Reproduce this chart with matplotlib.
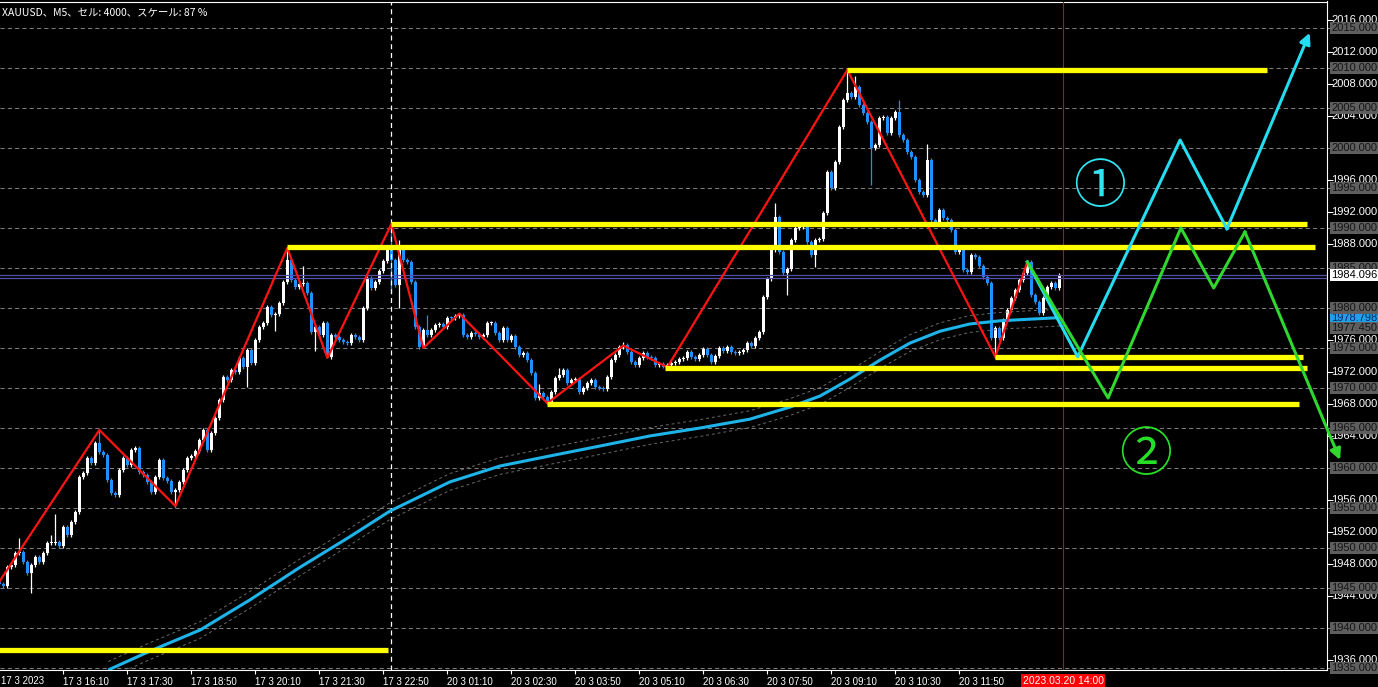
import matplotlib
matplotlib.use('Agg')
import matplotlib.pyplot as plt
import matplotlib.transforms as mtransforms
from matplotlib.ticker import FixedLocator

# M5 closes, one per bar (bar 0 = 17 3 14:50 ... bar 265 = 20 3 13:55)
closes = [
    1945.5, 1945.2, 1947.6, 1947.9, 1949.4, 1949.5, 1948.25, 1946.9, 1947.9, 1948.9,
    1948.25, 1949.4, 1950.6, 1950.6, 1950.8, 1950.25, 1952.6, 1951.6, 1953.25, 1954.5,
    1958.9, 1959.4, 1961.25, 1960.6, 1963.1, 1962.0, 1961.6, 1958.5, 1956.9, 1956.6,
    1959.75, 1961.25, 1960.4, 1962.25, 1962.5, 1959.5, 1959.1, 1958.25, 1957.0, 1958.9,
    1961.0, 1958.75, 1958.4, 1957.0, 1957.25, 1958.25, 1959.75, 1961.25, 1961.5, 1962.1,
    1963.5, 1964.75, 1962.25, 1964.4, 1966.25, 1968.5, 1971.4, 1971.0, 1972.25, 1972.0,
    1973.75, 1972.6, 1974.75, 1973.1, 1976.0, 1977.6, 1978.1, 1980.1, 1979.1, 1979.25,
    1980.6, 1983.25, 1986.0, 1983.5, 1982.6, 1983.0, 1983.1, 1981.9, 1977.0, 1977.6,
    1976.6, 1978.1, 1973.9, 1976.6, 1976.4, 1976.0, 1975.75, 1975.6, 1976.6, 1976.4,
    1976.0, 1980.0, 1983.75, 1982.5, 1983.25, 1984.6, 1985.9, 1987.5, 1986.0, 1982.9,
    1987.6, 1986.0, 1985.75, 1983.25, 1977.6, 1975.1, 1977.25, 1976.6, 1977.25, 1977.9,
    1978.0, 1977.6, 1978.75, 1978.7, 1979.0, 1979.1, 1976.6, 1976.4, 1976.9, 1976.75,
    1976.4, 1976.6, 1978.1, 1978.1, 1976.9, 1976.0, 1977.5, 1976.0, 1976.5, 1975.1,
    1974.1, 1974.4, 1973.5, 1971.9, 1968.75, 1969.4, 1968.9, 1968.25, 1969.5, 1971.25,
    1971.6, 1972.25, 1970.6, 1971.0, 1971.1, 1969.5, 1970.0, 1970.6, 1971.0, 1970.1,
    1970.0, 1969.9, 1971.4, 1973.5, 1974.1, 1975.1, 1975.4, 1974.5, 1973.25, 1972.9,
    1973.75, 1974.4, 1973.9, 1973.75, 1972.9, 1973.0, 1972.6, 1972.9, 1973.1, 1973.3,
    1973.6, 1973.7, 1974.5, 1973.9, 1973.6, 1974.1, 1974.9, 1974.1, 1973.25, 1974.0,
    1975.0, 1974.6, 1975.1, 1974.5, 1974.4, 1974.5, 1974.75, 1975.6, 1975.25, 1976.25,
    1977.0, 1981.4, 1983.6, 1987.25, 1991.4, 1987.0, 1984.4, 1984.9, 1988.5, 1990.0,
    1990.1, 1990.2, 1988.25, 1986.6, 1988.5, 1988.6, 1991.9, 1997.0, 1995.0, 1998.25,
    2002.6, 2006.0, 2006.9, 2006.4, 2007.6, 2005.4, 2004.4, 2003.25, 2000.0, 2000.4,
    2003.75, 2003.9, 2001.9, 2003.75, 2004.5, 2001.6, 2001.0, 1999.5, 1998.9, 1996.0,
    1994.5, 1994.1, 1998.5, 1991.0, 1990.75, 1992.25, 1991.25, 1991.0, 1989.75, 1987.0,
    1987.5, 1984.75, 1984.5, 1986.6, 1986.4, 1985.25, 1983.9, 1983.1, 1976.25, 1977.5,
    1976.25, 1978.5, 1979.75, 1981.25, 1982.25, 1983.5, 1984.4, 1985.75, 1981.6, 1980.75,
    1979.4, 1981.25, 1982.6, 1983.1, 1982.5, 1984.1,
]
first_open = 1945.8

# long wicks that stand out
wick_highs = {5: 1951.25, 13: 1951.6, 14: 1954.25, 25: 1964.75, 72: 1987.5, 76: 1985.2,
              98: 1990.5, 100: 1988.5, 107: 1979.1, 135: 1970.5, 140: 1972.5, 156: 1975.75,
              194: 1993.1, 212: 2009.75, 214: 2009.0, 225: 2006.0, 232: 2000.5, 257: 1986.0}
wick_lows = {8: 1944.4, 44: 1955.1, 62: 1970.1, 69: 1977.1, 79: 1974.6, 82: 1973.75,
             98: 1981.9, 100: 1980.0, 106: 1975.0, 137: 1968.0, 166: 1972.5, 197: 1981.6,
             204: 1985.1, 218: 1995.4, 249: 1973.75}

zigzag_bars = [0, 25, 44, 72, 82, 98, 106, 115, 137, 156, 167, 212, 249, 257]
zigzag_prices = [1945.8, 1964.75, 1955.25, 1987.5, 1973.75, 1990.5, 1975.0, 1979.3,
                 1968.1, 1975.3, 1972.6, 2009.75, 1973.9, 1985.75]

ma_bars = [27.2, 37.6, 50.2, 62.6, 75.2, 87.6, 97.6, 112.6, 125.2, 137.6, 150.2, 162.6,
           175.2, 187.6, 197.6, 205.2, 212.6, 220.2, 227.6, 235.2, 242.6, 250.2, 257.6, 265.2]
ma_prices = [1934.75, 1937.1, 1939.75, 1943.5, 1947.6, 1951.4, 1954.6, 1958.25, 1960.25,
             1961.5, 1962.75, 1964.0, 1965.0, 1966.1, 1967.6, 1969.0, 1971.1, 1973.5,
             1975.6, 1977.1, 1978.0, 1978.4, 1978.6, 1978.8]
envelope = 1.05

level_prices = [2009.75, 1990.5, 1987.6, 1973.9, 1972.5, 1968.0, 1937.25]
level_start = [212, 98, 72, 249, 166.5, 137, 0]
level_end = [317, 327, 329, 326, 327, 325, 97.2]

scen1_bars = [257, 269.6, 295.2, 306.9, 327.6]
scen1_prices = [1985.75, 1973.9, 2001.0, 1989.9, 2014.4]
scen2_bars = [257, 277.2, 295.4, 303.6, 311.4, 335.2]
scen2_prices = [1985.75, 1968.75, 1990.0, 1982.5, 1989.5, 1961.0]

bid_price = 1984.096
line2_price = 1983.7
ma_last = 1978.798
env_label = 1977.450

time_bars = [16, 32, 48, 64, 80, 96, 112, 128, 144, 160, 176, 192, 208, 224, 240]
time_labels = ['17 3 16:10', '17 3 17:30', '17 3 18:50', '17 3 20:10', '17 3 21:30',
               '17 3 22:50', '20 3 01:10', '20 3 02:30', '20 3 03:50', '20 3 05:10',
               '20 3 06:30', '20 3 07:50', '20 3 09:10', '20 3 10:30', '20 3 11:50']
now_bar = 266
now_label = '2023.03.20 14:00'
sep_bar = 98

grid_levels = list(range(1935, 2016, 5))
white_levels = [2016, 2012, 2008, 2004, 1996, 1992, 1988, 1976, 1972, 1968, 1964,
                1956, 1952, 1948, 1944, 1936]

title = 'XAUUSD、M5、セル: 4000、スケール: 87 %'

bull = '#ffffff'
bear = '#1e90ff'
font = 'Liberation Sans'
lab_size = 8

fig = plt.figure(figsize=(13.78, 6.87), dpi=100, facecolor='black')
ax = fig.add_axes([0, 16.7 / 687, 1326.5 / 1378, 668.8 / 687])
ax.set_facecolor('black')
ax.set_xlim(0.15, 331.8)
ax.set_ylim(1934.71, 2018.31)

for p in grid_levels:
    ax.axhline(p, color='#7c7c7c', lw=0.75, ls=(0, (4, 3)), zorder=1)

# candles
opens = [first_open] + closes[:-1]
for i, (o, c) in enumerate(zip(opens, closes)):
    col = bull if c >= o else bear
    top, bot = max(o, c), min(o, c)
    hi = wick_highs.get(i, top + 0.25)
    lo = wick_lows.get(i, bot - 0.25)
    ax.vlines(i, lo, hi, color=col, lw=0.9, zorder=2)
    ax.bar(i, max(top - bot, 0.13), bottom=bot, width=0.72, color=col, lw=0, zorder=2)

# moving average + envelope
ax.plot(ma_bars, ma_prices, color='#1eb4ea', lw=2.2, zorder=3, solid_capstyle='butt')
ax.plot(ma_bars, [p + envelope for p in ma_prices], color='#6a6a6a', lw=0.7,
        ls=(0, (3, 3)), zorder=3)
ax.plot(ma_bars, [p - envelope for p in ma_prices], color='#6a6a6a', lw=0.7,
        ls=(0, (3, 3)), zorder=3)

ax.axhline(bid_price, color='#5050a8', lw=0.9, zorder=2.5)
ax.axhline(line2_price, color='#5050a8', lw=0.9, zorder=2.5)

ax.axvline(sep_bar, color='white', lw=0.9, ls=(0, (4, 3)), zorder=2.6)
ax.axvline(now_bar, color='#b01414', lw=0.8, zorder=2.6)

ax.plot(zigzag_bars, zigzag_prices, color='#ff1414', lw=1.6, zorder=4)

for p, a, b in zip(level_prices, level_start, level_end):
    ax.plot([a, b], [p, p], color='#ffff00', lw=3.8, zorder=4.5, solid_capstyle='butt')

# scenarios
for bars, prices, col in [(scen1_bars, scen1_prices, '#25dcf0'),
                          (scen2_bars, scen2_prices, '#2fd82f')]:
    ax.plot(bars[:-1], prices[:-1], color=col, lw=2.2, zorder=5, clip_on=False)
    ann = ax.annotate('', xy=(bars[-1], prices[-1]), xytext=(bars[-2], prices[-2]),
                      arrowprops=dict(arrowstyle='-|>', color=col, lw=2.2,
                                      mutation_scale=16, shrinkA=0, shrinkB=0),
                      annotation_clip=False, zorder=5)
    ann.arrow_patch.set_clip_on(False)

ax.text(275.15, 1995.0, '①', color='#30e4f2', fontsize=38, ha='center', va='center',
        family=['Noto Sans CJK JP', 'DejaVu Sans'], zorder=6)
ax.text(286.6, 1961.6, '②', color='#26e026', fontsize=38, ha='center', va='center',
        family=['Noto Sans CJK JP', 'DejaVu Sans'], zorder=6)

# spines and ticks
for side in ['top', 'right', 'bottom']:
    ax.spines[side].set_color('white')
    ax.spines[side].set_linewidth(0.8)
ax.spines['left'].set_visible(False)

ax.yaxis.tick_right()
ax.yaxis.set_major_locator(FixedLocator(white_levels))
ax.yaxis.set_minor_locator(FixedLocator(grid_levels))
ax.set_yticklabels([])
ax.tick_params(axis='y', which='major', colors='white', length=4, width=0.8)
ax.tick_params(axis='y', which='minor', colors='#8a8a8a', length=4, width=0.8)

ax.set_xticks(time_bars)
ax.set_xticklabels(time_labels, ha='left', fontsize=7, color='white', family=font)
ax.tick_params(axis='x', colors='white', length=3, width=0.8, pad=1.5)
ax.text(1 / 1326.5, -0.009, '17 3 2023', transform=ax.transAxes, color='white',
        fontsize=7, ha='left', va='top', family=font, clip_on=False)

ylab = mtransforms.blended_transform_factory(ax.transAxes, ax.transData)
lx = 1331.5 / 1326.5
for p in white_levels:
    ax.text(lx, p, f'{p:.3f}', transform=ylab, color='white', fontsize=lab_size, ha='left',
            va='center', family=font, clip_on=False, zorder=7)
ax.text(lx, ma_last, f'{ma_last:.3f}', transform=ylab, color='#062a5c', fontsize=lab_size,
        ha='left', va='center', family=font, clip_on=False, zorder=7.5,
        bbox=dict(boxstyle='square,pad=0.1', fc='#1ea0ea', ec='none'))
for p in grid_levels + [env_label]:
    ax.text(lx, p, f'{p:.3f}', transform=ylab, color='#141414', fontsize=lab_size, ha='left',
            va='center', family=font, clip_on=False, zorder=8,
            bbox=dict(boxstyle='square,pad=0.1', fc='#5e5e5e', ec='none'))
ax.text(lx, bid_price, f'{bid_price:.3f}', transform=ylab, color='black', fontsize=lab_size,
        ha='left', va='center', family=font, clip_on=False, zorder=9,
        bbox=dict(boxstyle='square,pad=0.1', fc='white', ec='none'))

xlab = mtransforms.blended_transform_factory(ax.transData, ax.transAxes)
ax.text(now_bar, -0.008, now_label, transform=xlab, color='white', fontsize=7.5,
        ha='center', va='top', family=font, clip_on=False, zorder=9,
        bbox=dict(boxstyle='square,pad=0.15', fc='#ff0000', ec='none'))

fig.text(2 / 1378, 1 - 12.5 / 687, title, color='white', fontsize=7.5, ha='left',
         va='center', family=['Noto Sans CJK JP', 'DejaVu Sans'])

fig.savefig('out.png', dpi=100, facecolor='black')
